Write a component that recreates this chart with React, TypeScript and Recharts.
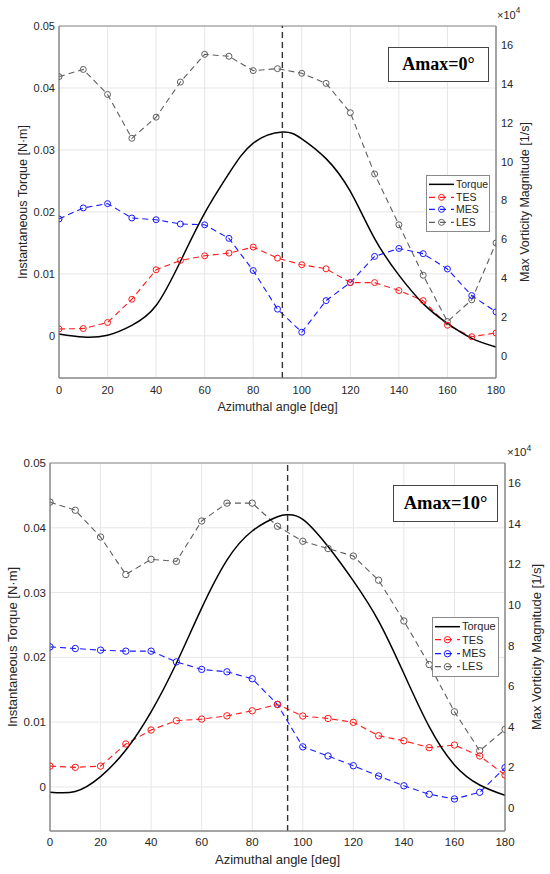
import React from 'react';
import {
  ComposedChart,
  Line,
  XAxis,
  YAxis,
  CartesianGrid,
  ReferenceLine,
  ReferenceArea,
  Legend,
  Label,
} from 'recharts';

// ---------- data ----------
const angles = [0, 10, 20, 30, 40, 50, 60, 70, 80, 90, 100, 110, 120, 130, 140, 150, 160, 170, 180];
const angleTicks = [0, 20, 40, 60, 80, 100, 120, 140, 160, 180];
const torqueTicks = [0, 0.01, 0.02, 0.03, 0.04, 0.05];
const vortTicks = [0, 2, 4, 6, 8, 10, 12, 14, 16];
const seriesNames = ['Torque', 'TES', 'MES', 'LES'];

// Amax = 0°  (vorticity in units of 1e4 1/s)
const tesTop = [1.38, 1.4, 1.71, 2.91, 4.43, 4.91, 5.15, 5.29, 5.6, 5.03, 4.69, 4.48, 3.77, 3.77, 3.36, 2.84, 1.57, 0.98, 1.17];
const mesTop = [7.05, 7.62, 7.84, 7.1, 7.01, 6.79, 6.75, 6.05, 4.39, 2.4, 1.21, 2.84, 3.77, 5.12, 5.53, 5.26, 4.47, 3.1, 2.26];
const lesTop = [14.39, 14.76, 13.47, 11.21, 12.3, 14.11, 15.54, 15.44, 14.7, 14.8, 14.56, 14.04, 12.53, 9.37, 6.75, 4.15, 1.76, 2.88, 5.81];
const torqueAnglesTop = [0, 10, 20, 30, 40, 50, 60, 70, 80, 92, 100, 110, 120, 130, 140, 150, 160, 170, 180];
const torqueTop = [0.0003, -0.0002, 0.0001, 0.0017, 0.0049, 0.012, 0.0198, 0.0262, 0.0311, 0.0329, 0.0318, 0.0286, 0.0233, 0.0157, 0.0098, 0.0052, 0.002, -0.0004, -0.0018];
const peakTop = 92;

// Amax = 10°
const tesBot = [2.05, 1.99, 2.05, 3.14, 3.83, 4.29, 4.37, 4.53, 4.78, 5.09, 4.52, 4.4, 4.21, 3.55, 3.3, 2.96, 3.09, 2.55, 1.61];
const mesBot = [7.93, 7.85, 7.77, 7.72, 7.72, 7.19, 6.82, 6.7, 6.36, 5.09, 3.0, 2.55, 2.07, 1.56, 1.08, 0.66, 0.43, 0.76, 1.97];
const lesBot = [15.07, 14.67, 13.35, 11.5, 12.25, 12.15, 14.14, 15.02, 15.02, 13.88, 13.14, 12.78, 12.41, 11.22, 9.21, 7.06, 4.73, 2.81, 3.86];
const torqueAnglesBot = [0, 10, 20, 30, 40, 50, 60, 70, 80, 90, 94, 100, 110, 120, 130, 140, 150, 160, 170, 180];
const torqueBot = [-0.0008, -0.0007, 0.0016, 0.0057, 0.0116, 0.0191, 0.0276, 0.035, 0.0395, 0.0417, 0.042, 0.0413, 0.0371, 0.0318, 0.0256, 0.0175, 0.0093, 0.0034, 0.0003, -0.0013];
const peakBot = 94;

// ---------- styling ----------
const FONT = '"Liberation Sans", Arial, Helvetica, sans-serif';
const TEXT = '#262626';
const AXIS = '#8a8a8a';
const GRID = '#e6e6e6';
const COLORS = { Torque: '#000000', TES: '#ff1a1a', MES: '#1a1aff', LES: '#5e5e5e' };
const DASH = '6 4';

const torqueDomain = [-0.0068, 0.05];
const vortDomain = [-1.15, 17];

type Cfg = {
  top: number;
  height: number;
  marginTop: number;
  leftW: number;
  rightW: number;
  xAxisH: number;
  tickFs: number;
  labelFs: number;
  tickGapX: number;
  labelOffX: number;
  leftLabelX: number;
  rightLabelX: number;
  rightTickMargin: number;
  r: number;
  legend: { left: number; top: number; w: number; rowH: number; fs: number };
};

const topCfg: Cfg = {
  top: 0,
  height: 437,
  marginTop: 26,
  leftW: 59,
  rightW: 54,
  xAxisH: 59,
  tickFs: 11,
  labelFs: 12.5,
  tickGapX: 8,
  labelOffX: 33,
  leftLabelX: 23,
  rightLabelX: 29,
  rightTickMargin: 5,
  r: 3,
  legend: { left: 426, top: 175, w: 64, rowH: 12.7, fs: 10.5 },
};

const botCfg: Cfg = {
  top: 437,
  height: 437,
  marginTop: 26,
  leftW: 50,
  rightW: 45,
  xAxisH: 43,
  tickFs: 11.5,
  labelFs: 13,
  tickGapX: 7,
  labelOffX: 33,
  leftLabelX: 12,
  rightLabelX: 31,
  rightTickMargin: 3,
  r: 3.2,
  legend: { left: 432, top: 180, w: 67, rowH: 13.4, fs: 11 },
};

const fmtTorque = (v: number) => (v === 0 ? '0' : v.toFixed(2));

const LegendBox = ({ cfg }: { cfg: Cfg }) => {
  const { w, rowH, fs } = cfg.legend;
  return (
    <div
      style={{
        width: w,
        boxSizing: 'border-box',
        border: `1px solid ${AXIS}`,
        background: '#fff',
        padding: '2px 0 2px 0',
        fontFamily: FONT,
        fontSize: fs,
        color: TEXT,
        lineHeight: 1,
      }}
    >
      {seriesNames.map((name) => {
        const c = (COLORS as any)[name];
        const marker = name !== 'Torque';
        return (
          <div key={name} style={{ display: 'flex', alignItems: 'center', height: rowH }}>
            <svg width={28} height={rowH} style={{ display: 'block' }}>
              <line
                x1={2}
                x2={27}
                y1={rowH / 2}
                y2={rowH / 2}
                stroke={c}
                strokeWidth={marker ? 1.2 : 1.5}
                strokeDasharray={marker ? '6 5' : undefined}
              />
              {marker && <circle cx={14.5} cy={rowH / 2} r={cfg.r} fill="none" stroke={c} strokeWidth={1} />}
            </svg>
            <span style={{ marginLeft: 1 }}>{name}</span>
          </div>
        );
      })}
    </div>
  );
};

const Panel = ({
  cfg,
  tes,
  mes,
  les,
  tAngles,
  torque,
  peak,
}: {
  cfg: Cfg;
  tes: number[];
  mes: number[];
  les: number[];
  tAngles: number[];
  torque: number[];
  peak: number;
}) => {
  const table = angles.map((a, i) => ({ angle: a, TES: tes[i], MES: mes[i], LES: les[i] }));
  const torqueTable = tAngles.map((a, i) => ({ angle: a, Torque: torque[i] }));
  const tick = { fontSize: cfg.tickFs, fill: TEXT, fontFamily: FONT };

  const dotFor = (c: string) => ({ r: cfg.r, fill: 'none', stroke: c, strokeWidth: 1, strokeDasharray: 'none' });

  return (
    <div style={{ position: 'absolute', left: 0, top: cfg.top }}>
      <ComposedChart
        width={550}
        height={cfg.height}
        margin={{ top: cfg.marginTop, right: 0, bottom: 0, left: 0 }}
      >
        <CartesianGrid yAxisId="left" stroke={GRID} strokeWidth={1} />
        <XAxis
          dataKey="angle"
          type="number"
          domain={[0, 180]}
          ticks={angleTicks}
          interval={0}
          allowDataOverflow
          height={cfg.xAxisH}
          tickLine={false}
          tickSize={0}
          tickMargin={cfg.tickGapX}
          axisLine={{ stroke: AXIS }}
          tick={tick}
        >
          <Label
            content={(p: any) => {
              const vb = p.viewBox || {};
              return (
                <text
                  x={vb.x + vb.width / 2}
                  y={vb.y + cfg.labelOffX}
                  textAnchor="middle"
                  fontSize={cfg.labelFs}
                  fontFamily={FONT}
                  fill={TEXT}
                >
                  Azimuthal angle [deg]
                </text>
              );
            }}
          />
        </XAxis>
        <YAxis
          yAxisId="left"
          orientation="left"
          type="number"
          domain={torqueDomain}
          ticks={torqueTicks}
          interval={0}
          allowDataOverflow
          width={cfg.leftW}
          tickLine={false}
          tickSize={0}
          tickMargin={4}
          axisLine={{ stroke: AXIS }}
          tick={tick}
          tickFormatter={fmtTorque}
        >
          <Label
            content={(p: any) => {
              const vb = p.viewBox || {};
              const cx = cfg.leftLabelX;
              const cy = vb.y + vb.height / 2;
              return (
                <text
                  x={cx}
                  y={cy}
                  transform={`rotate(-90 ${cx} ${cy})`}
                  textAnchor="middle"
                  dominantBaseline="central"
                  fontSize={cfg.labelFs}
                  fontFamily={FONT}
                  fill={TEXT}
                >
                  Instantaneous Torque [N·m]
                </text>
              );
            }}
          />
        </YAxis>
        <YAxis
          yAxisId="right"
          orientation="right"
          type="number"
          domain={vortDomain}
          ticks={vortTicks}
          interval={0}
          allowDataOverflow
          width={cfg.rightW}
          tickLine={false}
          tickSize={0}
          tickMargin={cfg.rightTickMargin}
          axisLine={{ stroke: AXIS }}
          tick={tick}
        >
          <Label
            content={(p: any) => {
              const vb = p.viewBox || {};
              const cx = vb.x + cfg.rightLabelX;
              const cy = vb.y + vb.height / 2;
              return (
                <text
                  x={cx}
                  y={cy}
                  transform={`rotate(-90 ${cx} ${cy})`}
                  textAnchor="middle"
                  dominantBaseline="central"
                  fontSize={cfg.labelFs}
                  fontFamily={FONT}
                  fill={TEXT}
                >
                  Max Vorticity Magnitude [1/s]
                </text>
              );
            }}
          />
        </YAxis>
        <ReferenceArea
          yAxisId="left"
          x1={0}
          x2={180}
          y1={torqueDomain[0]}
          y2={torqueDomain[1]}
          fill="none"
          fillOpacity={0}
          stroke={AXIS}
          strokeWidth={1}
        />
        <Line
          yAxisId="right"
          data={table}
          dataKey="LES"
          stroke={COLORS.LES}
          strokeWidth={1.1}
          strokeDasharray={DASH}
          dot={dotFor(COLORS.LES)}
          activeDot={false}
          isAnimationActive={false}
        />
        <Line
          yAxisId="right"
          data={table}
          dataKey="MES"
          stroke={COLORS.MES}
          strokeWidth={1.1}
          strokeDasharray={DASH}
          dot={dotFor(COLORS.MES)}
          activeDot={false}
          isAnimationActive={false}
        />
        <Line
          yAxisId="right"
          data={table}
          dataKey="TES"
          stroke={COLORS.TES}
          strokeWidth={1.1}
          strokeDasharray={DASH}
          dot={dotFor(COLORS.TES)}
          activeDot={false}
          isAnimationActive={false}
        />
        <Line
          yAxisId="left"
          data={torqueTable}
          dataKey="Torque"
          type="natural"
          stroke={COLORS.Torque}
          strokeWidth={1.5}
          dot={false}
          activeDot={false}
          isAnimationActive={false}
        />
        <ReferenceLine
          yAxisId="left"
          x={peak}
          stroke="#333"
          strokeWidth={1.4}
          strokeDasharray="6 4"
        />
        <Legend
          layout="vertical"
          align="center"
          verticalAlign="middle"
          wrapperStyle={{ left: cfg.legend.left, top: cfg.legend.top, width: cfg.legend.w }}
          content={() => <LegendBox cfg={cfg} />}
        />
      </ComposedChart>
    </div>
  );
};

const AmaxBox = ({ left, top, w, h, text, fs }: any) => (
  <div
    style={{
      position: 'absolute',
      left,
      top,
      width: w,
      height: h,
      boxSizing: 'border-box',
      border: '1px solid #444',
      background: '#fff',
      display: 'flex',
      alignItems: 'center',
      justifyContent: 'center',
      fontFamily: '"Liberation Serif", "Times New Roman", serif',
      fontWeight: 'bold',
      fontSize: fs,
      color: '#000',
    }}
  >
    {text}
  </div>
);

const Exponent = ({ left, top, fs }: any) => (
  <div
    style={{
      position: 'absolute',
      left,
      top,
      fontFamily: FONT,
      fontSize: fs,
      color: TEXT,
      lineHeight: 1,
      whiteSpace: 'nowrap',
    }}
  >
    ×10<sup style={{ fontSize: fs * 0.75, verticalAlign: 'top', position: 'relative', top: -3 }}>4</sup>
  </div>
);

export default function App() {
  return (
    <div style={{ position: 'absolute', left: 0, top: 0, width: 550, height: 874, background: '#fff', overflow: 'hidden' }}>
      <Panel cfg={topCfg} tes={tesTop} mes={mesTop} les={lesTop} tAngles={torqueAnglesTop} torque={torqueTop} peak={peakTop} />
      <Panel cfg={botCfg} tes={tesBot} mes={mesBot} les={lesBot} tAngles={torqueAnglesBot} torque={torqueBot} peak={peakBot} />
      <AmaxBox left={388} top={47} w={101} h={35} text="Amax=0°" fs={18} />
      <AmaxBox left={393} top={485} w={105} h={37} text="Amax=10°" fs={18.5} />
      <Exponent left={497} top={10} fs={11} />
      <Exponent left={507} top={447} fs={11.5} />
    </div>
  );
}
